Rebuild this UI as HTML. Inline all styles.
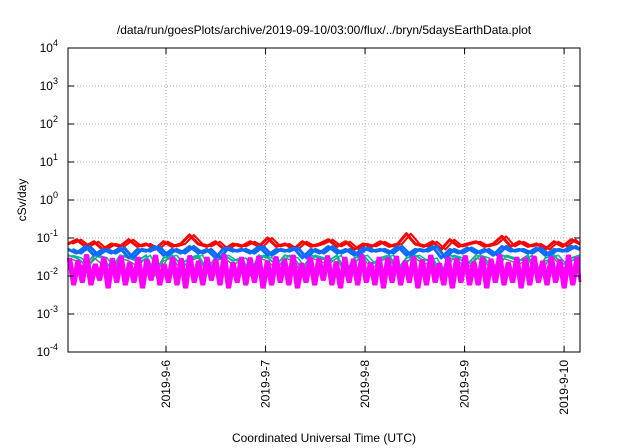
<!DOCTYPE html>
<html><head><meta charset="utf-8"><style>
html,body{margin:0;padding:0;background:#fff;}
svg{display:block;font-family:"Liberation Sans",Arial,sans-serif;}
</style></head><body>
<svg id="chart" width="640" height="448" viewBox="0 0 640 448" xmlns="http://www.w3.org/2000/svg">
<text x="324" y="34" font-size="12" text-anchor="middle">/data/run/goesPlots/archive/2019-09-10/03:00/flux/../bryn/5daysEarthData.plot</text>
<g id="grid"></g>
<g id="series"></g>
<rect x="68" y="48" width="512" height="304" fill="none" stroke="#000" stroke-width="1"/>
<g id="axes"></g>
<text x="0" y="0" font-size="12" text-anchor="middle" transform="translate(26,200) rotate(-90)">cSv/day</text>
<text x="324" y="442" font-size="12" text-anchor="middle">Coordinated Universal Time (UTC)</text>
</svg>
<script>
const yTickExps = [-4,-3,-2,-1,0,1,2,3,4];
const xTickDays = [6,7,8,9,10];
const xTickLabels = ["2019-9-6","2019-9-7","2019-9-8","2019-9-9","2019-9-10"];
const tStart = 5.015, tEnd = 10.16;
const red = [0.07,0.09,0.06,0.08,0.05,0.07,0.06,0.09,0.06,0.07,0.05,0.08,0.06,0.07,0.12,0.07,0.06,0.08,0.05,0.07,0.06,0.08,0.06,0.1,0.06,0.07,0.05,0.08,0.06,0.07,0.09,0.06,0.08,0.05,0.07,0.06,0.08,0.06,0.07,0.13,0.07,0.06,0.08,0.05,0.09,0.06,0.07,0.08,0.06,0.07,0.11,0.06,0.08,0.06,0.07,0.05,0.08,0.06,0.09,0.07];
const blue = [0.05,0.04,0.06,0.035,0.05,0.04,0.055,0.03,0.05,0.045,0.06,0.035,0.05,0.04,0.06,0.04,0.05,0.03,0.055,0.045,0.05,0.04,0.06,0.035,0.05,0.045,0.055,0.03,0.05,0.04,0.06,0.04,0.05,0.035,0.055,0.045,0.05,0.04,0.06,0.035,0.05,0.045,0.06,0.03,0.05,0.04,0.055,0.04,0.05,0.035,0.06,0.045,0.05,0.04,0.055,0.035,0.05,0.045,0.06,0.05];
const teal = [0.035,0.03,0.02,0.035,0.03,0.015,0.035,0.03,0.025,0.035,0.012,0.03,0.035,0.02,0.03,0.035,0.015,0.03,0.035,0.025,0.03,0.012,0.035,0.03,0.02,0.035,0.03,0.015,0.035,0.03,0.025,0.035,0.012,0.03,0.035,0.02,0.03,0.035,0.015,0.03,0.035,0.025,0.03,0.012,0.035,0.03,0.02,0.035,0.03,0.015,0.035,0.03,0.025,0.035,0.012,0.03,0.035,0.02,0.03,0.035];
const gray = [0.03,0.025,0.015,0.03,0.02,0.012,0.03,0.025,0.018,0.03,0.01,0.025,0.03,0.015,0.025,0.03,0.012,0.025,0.03,0.02,0.025,0.01,0.03,0.025,0.015,0.03,0.025,0.012,0.03,0.025,0.02,0.03,0.01,0.025,0.03,0.015,0.025,0.03,0.012,0.025,0.03,0.02,0.025,0.01,0.03,0.025,0.015,0.03,0.025,0.012,0.03,0.025,0.02,0.03,0.01,0.025,0.03,0.015,0.025,0.03];
const magenta = [0.03,0.006,0.025,0.007,0.035,0.006,0.02,0.008,0.03,0.005,0.028,0.007,0.032,0.006,0.022,0.007,0.03,0.005,0.026,0.008,0.034,0.006,0.02,0.007,0.03,0.006,0.028,0.005,0.033,0.007,0.024,0.006,0.03,0.008,0.027,0.006,0.035,0.005,0.022,0.007,0.03,0.006,0.029,0.007,0.032,0.005,0.024,0.006,0.031,0.007,0.026,0.006,0.034,0.005,0.021,0.007,0.03,0.006,0.028,0.008,0.033,0.006,0.023,0.005,0.03,0.007,0.027,0.006,0.035,0.007,0.022,0.006,0.03,0.005,0.029,0.007,0.032,0.006,0.024,0.007,0.031,0.005,0.026,0.006,0.034,0.007,0.021,0.006,0.03,0.005,0.028,0.007,0.033,0.006,0.023,0.006,0.03,0.005,0.027,0.007,0.035,0.006,0.022,0.007,0.03,0.005,0.029,0.006,0.032,0.007,0.024,0.006,0.031,0.007,0.026,0.005,0.034,0.006,0.03,0.007];
const L=68,R=580,T=48,B=352;
const xs = d => L + (d - tStart) / (tEnd - tStart) * (R - L);
const ys = v => B - (Math.log10(v) + 4) / 8 * (B - T);
const NS="http://www.w3.org/2000/svg";
const grid=document.getElementById('grid'), axes=document.getElementById('axes'), ser=document.getElementById('series');
function mk(tag,attrs,parent){const e=document.createElementNS(NS,tag);for(const k in attrs)e.setAttribute(k,attrs[k]);parent.appendChild(e);return e;}
yTickExps.forEach(p=>{
  const y=ys(Math.pow(10,p));
  if(p>-4&&p<4){const g=mk('line',{x1:L,x2:R,y1:y,y2:y,stroke:'#b0b0b0','stroke-dasharray':'1,2'},grid);
  }
  const t1=mk('line',{x1:L,x2:L+6,y1:y,y2:y,stroke:'#000'},axes);
  
  const t2=mk('line',{x1:R-6,x2:R,y1:y,y2:y,stroke:'#000'},axes);
  
  const tx=mk('text',{x:58,y:y+4,'font-size':12,'text-anchor':'end'},axes);
  
  tx.textContent='10';
  const sp=mk('tspan',{dy:-6,'font-size':9},tx);sp.textContent=String(p);
});
xTickDays.forEach((d,i)=>{
  const x=xs(d);
  const g=mk('line',{x1:x,x2:x,y1:T,y2:B,stroke:'#b0b0b0','stroke-dasharray':'1,2'},grid);
  
  const t1=mk('line',{x1:x,x2:x,y1:B-6,y2:B,stroke:'#000'},axes);
  
  const t2=mk('line',{x1:x,x2:x,y1:T,y2:T+6,stroke:'#000'},axes);
  
  const tx=mk('text',{x:0,y:0,'font-size':12,'text-anchor':'end',transform:`translate(${x+4},360) rotate(-90)`},axes);
  
  tx.textContent=xTickLabels[i];
});
function line(vals,color,name,w,shift){
  const n=vals.length, step=(tEnd-tStart)/(n-1);
  const pts=vals.map((v,i)=>{const t=Math.min(tEnd,Math.max(tStart,tStart+i*step+shift*step));return xs(t).toFixed(1)+','+ys(v).toFixed(1);}).join(' ');
  const p=mk('polyline',{points:pts,fill:'none',stroke:color,'stroke-width':w,'stroke-linejoin':'round'},ser);
  
}
line(red,'#ff0000','series-red',3,0);
line(red,'#ff0000','series-red',2,0.5);
line(gray,'#8c6e6e','series-gray',1.5,0);
line(teal,'#00b59a','series-teal',2,0);
line(teal,'#00b59a','series-teal',1.5,0.5);
line(blue,'#0a6cff','series-blue',3,0);
line(blue,'#0a6cff','series-blue',3,0.5);
line(magenta,'#ff00ff','series-magenta',2.5,0);
line(magenta,'#ff00ff','series-magenta',2.5,0.33);
line(magenta,'#ff00ff','series-magenta',2.5,0.66);
</script>
</body></html>
